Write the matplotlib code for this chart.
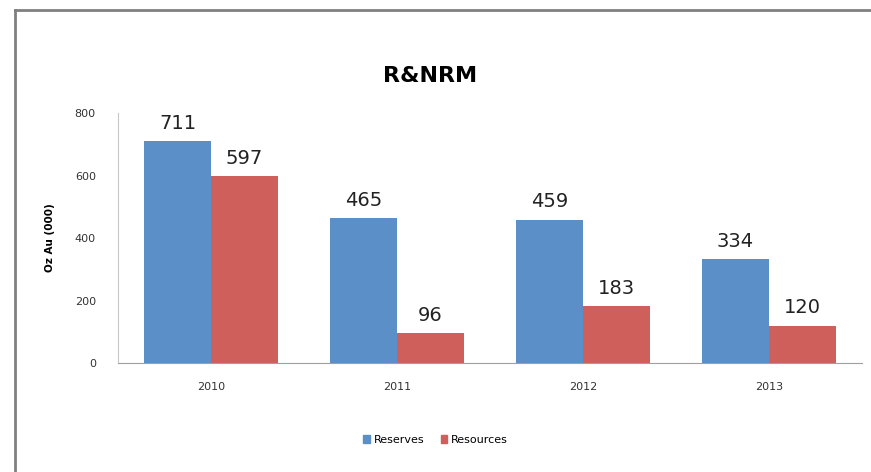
import numpy as np
import matplotlib.pyplot as plt
from matplotlib.lines import Line2D
from matplotlib.patches import Patch

years = ['2010', '2011', '2012', '2013']
reserves = [711, 465, 459, 334]
resources = [597, 96, 183, 120]

blue = '#5A8FC8'
red = '#CF5F5A'

fig = plt.figure(figsize=(8.71, 4.72), dpi=100)
ax = fig.add_axes([0.1355, 0.2309, 0.854, 0.5297])

x = np.arange(len(years))
w = 0.36
b1 = ax.bar(x - w / 2, reserves, w, color=blue)
b2 = ax.bar(x + w / 2, resources, w, color=red)

for bars, vals in ((b1, reserves), (b2, resources)):
    for rect, v in zip(bars, vals):
        ax.text(rect.get_x() + rect.get_width() / 2, v + 26, str(v),
                ha='center', va='bottom', fontsize=14, color='#222222')

ax.set_xlim(-0.5, 3.5)
ax.set_ylim(0, 800)
ax.set_yticks([0, 200, 400, 600, 800])
ax.set_xticks(x)
ax.set_xticklabels(years)
ax.tick_params(length=0, labelsize=8, colors='#333333')
ax.tick_params(axis='y', pad=16)
ax.tick_params(axis='x', pad=14)
for s in ('top', 'right'):
    ax.spines[s].set_visible(False)
ax.spines['left'].set_color('#C8C8C8')
ax.spines['bottom'].set_color('#A0A0A0')
ax.set_ylabel('Oz Au (000)', fontsize=7.5, fontweight='bold', labelpad=14)

fig.text(0.494, 0.84, 'R&NRM', ha='center', va='center', fontsize=16, fontweight='bold')

handles = [Patch(color=blue), Patch(color=red)]
fig.legend(handles, ['Reserves', 'Resources'], loc='center', bbox_to_anchor=(0.5, 0.068),
           ncol=2, frameon=False, fontsize=8, handlelength=0.6, handleheight=0.6,
           columnspacing=1.5, handletextpad=0.3)

# outer frame (left and top edges)
fig.add_artist(Line2D([15 / 871, 15 / 871], [0, 1 - 10 / 472], transform=fig.transFigure,
                      color='#808080', lw=2))
fig.add_artist(Line2D([15 / 871, 870 / 871], [1 - 10 / 472, 1 - 10 / 472],
                      transform=fig.transFigure, color='#808080', lw=2))

fig.savefig('out.png', dpi=100)
